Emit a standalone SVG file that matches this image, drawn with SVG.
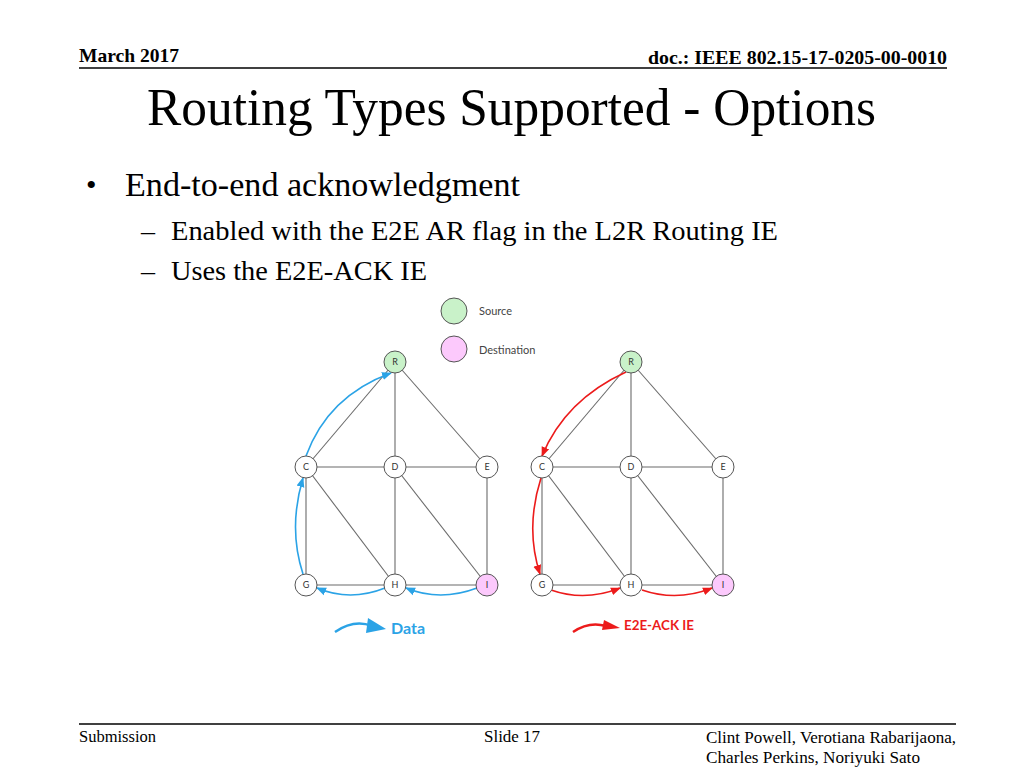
<svg xmlns="http://www.w3.org/2000/svg" width="1024" height="768" viewBox="0 0 1024 768">
<defs>
<style>
.serif{font-family:"Liberation Serif","Times New Roman",serif;fill:#000}
.edge{stroke:#6b6b6b;stroke-width:1.1;fill:none}
.node{fill:#fff;stroke:#555;stroke-width:1}
.src{fill:#c9f2c9;stroke:#555;stroke-width:1}
.dst{fill:#fcc9fc;stroke:#555;stroke-width:1}
.lbl{font-family:Lato,"Open Sans",sans-serif;font-size:9px;fill:#333;text-anchor:middle}
.leg{font-family:Lato,"Open Sans",sans-serif;font-size:11px;fill:#444}
.blue{stroke:#2ba3e6;stroke-width:1.6;fill:none;marker-end:url(#ab)}
.red{stroke:#ec1b1b;stroke-width:1.6;fill:none;marker-end:url(#ar)}
</style>
<marker id="ab" viewBox="0 0 10 10" refX="9" refY="5" markerWidth="10" markerHeight="10" markerUnits="userSpaceOnUse" orient="auto"><path d="M0,1 L10,5 L0,9 Z" fill="#2ba3e6"/></marker>
<marker id="ar" viewBox="0 0 10 10" refX="9" refY="5" markerWidth="10" markerHeight="10" markerUnits="userSpaceOnUse" orient="auto"><path d="M0,1 L10,5 L0,9 Z" fill="#ec1b1b"/></marker>
</defs>
<rect width="1024" height="768" fill="#fff"/>

<g id="header">
<text class="serif" x="79" y="62" font-size="19" font-weight="bold" textLength="100" lengthAdjust="spacingAndGlyphs">March 2017</text>
<text class="serif" x="648" y="64" font-size="19" font-weight="bold" textLength="299" lengthAdjust="spacingAndGlyphs">doc.: IEEE 802.15-17-0205-00-0010</text>
<line x1="79" y1="68" x2="947" y2="68" stroke="#000" stroke-width="1.5"/>
</g>

<g id="title">
<text class="serif" x="147" y="125" font-size="53" textLength="729" lengthAdjust="spacingAndGlyphs">Routing Types Supported - Options</text>
</g>

<g id="bullets">
<text class="serif" x="86" y="195" font-size="30">•</text>
<text class="serif" x="125" y="196" font-size="34" textLength="395" lengthAdjust="spacingAndGlyphs">End-to-end acknowledgment</text>
<text class="serif" x="141" y="240" font-size="28">–</text>
<text class="serif" x="171" y="240" font-size="28" textLength="607" lengthAdjust="spacingAndGlyphs">Enabled with the E2E AR flag in the L2R Routing IE</text>
<text class="serif" x="141" y="280" font-size="28">–</text>
<text class="serif" x="171" y="280" font-size="28" textLength="256" lengthAdjust="spacingAndGlyphs">Uses the E2E-ACK IE</text>
</g>

<g id="legend">
<circle class="src" cx="454" cy="311" r="13"/>
<text class="leg" x="479" y="315">Source</text>
<circle class="dst" cx="454" cy="349" r="13"/>
<text class="leg" x="479" y="354">Destination</text>
</g>

<g id="connectors">
<!-- left graph edges -->
<line class="edge" x1="395" y1="362" x2="306" y2="467"/>
<line class="edge" x1="395" y1="362" x2="395" y2="467"/>
<line class="edge" x1="395" y1="362" x2="487" y2="467"/>
<line class="edge" x1="306" y1="467" x2="487" y2="467"/>
<line class="edge" x1="306" y1="467" x2="306" y2="585"/>
<line class="edge" x1="306" y1="467" x2="395" y2="585"/>
<line class="edge" x1="395" y1="467" x2="395" y2="585"/>
<line class="edge" x1="395" y1="467" x2="487" y2="585"/>
<line class="edge" x1="487" y1="467" x2="487" y2="585"/>
<line class="edge" x1="306" y1="585" x2="487" y2="585"/>
<!-- right graph edges -->
<line class="edge" x1="631" y1="362" x2="542" y2="467"/>
<line class="edge" x1="631" y1="362" x2="631" y2="467"/>
<line class="edge" x1="631" y1="362" x2="723" y2="467"/>
<line class="edge" x1="542" y1="467" x2="723" y2="467"/>
<line class="edge" x1="542" y1="467" x2="542" y2="585"/>
<line class="edge" x1="542" y1="467" x2="631" y2="585"/>
<line class="edge" x1="631" y1="467" x2="631" y2="585"/>
<line class="edge" x1="631" y1="467" x2="723" y2="585"/>
<line class="edge" x1="723" y1="467" x2="723" y2="585"/>
<line class="edge" x1="542" y1="585" x2="723" y2="585"/>
<!-- blue data path -->
<path class="blue" d="M477,588 Q440,602 406,588"/>
<path class="blue" d="M385,588 Q350,602 317,588"/>
<path class="blue" d="M303,574 Q288,528 303,478"/>
<path class="blue" d="M306,456 Q328,396 391,373"/>
<!-- red ack path -->
<path class="red" d="M626,372 Q565,400 542,456"/>
<path class="red" d="M541,478 Q525,528 540,574"/>
<path class="red" d="M551,590 Q585,602 620,588"/>
<path class="red" d="M642,590 Q677,602 712,588"/>
<!-- legend arrows -->
<path d="M335,632 Q354,619 372,626" stroke="#2ba3e6" stroke-width="2.4" fill="none"/>
<polygon points="368,618 386,629 366,633" fill="#2ba3e6"/>
<path d="M573,632 Q589,621 606,626" stroke="#ec1b1b" stroke-width="2.4" fill="none"/>
<polygon points="604,620 620,628 602,630" fill="#ec1b1b"/>
</g>

<g id="L_R"><circle class="src" cx="395" cy="362" r="11"/><text class="lbl" x="395" y="365">R</text></g>
<g id="L_C"><circle class="node" cx="306" cy="467" r="11"/><text class="lbl" x="306" y="470">C</text></g>
<g id="L_D"><circle class="node" cx="395" cy="467" r="11"/><text class="lbl" x="395" y="470">D</text></g>
<g id="L_E"><circle class="node" cx="487" cy="467" r="11"/><text class="lbl" x="487" y="470">E</text></g>
<g id="L_G"><circle class="node" cx="306" cy="585" r="11"/><text class="lbl" x="306" y="588">G</text></g>
<g id="L_H"><circle class="node" cx="395" cy="585" r="11"/><text class="lbl" x="395" y="588">H</text></g>
<g id="L_I"><circle class="dst" cx="487" cy="585" r="11"/><text class="lbl" x="487" y="588">I</text></g>

<g id="R_R"><circle class="src" cx="631" cy="362" r="11"/><text class="lbl" x="631" y="365">R</text></g>
<g id="R_C"><circle class="node" cx="542" cy="467" r="11"/><text class="lbl" x="542" y="470">C</text></g>
<g id="R_D"><circle class="node" cx="631" cy="467" r="11"/><text class="lbl" x="631" y="470">D</text></g>
<g id="R_E"><circle class="node" cx="723" cy="467" r="11"/><text class="lbl" x="723" y="470">E</text></g>
<g id="R_G"><circle class="node" cx="542" cy="585" r="11"/><text class="lbl" x="542" y="588">G</text></g>
<g id="R_H"><circle class="node" cx="631" cy="585" r="11"/><text class="lbl" x="631" y="588">H</text></g>
<g id="R_I"><circle class="dst" cx="723" cy="585" r="11"/><text class="lbl" x="723" y="588">I</text></g>

<g id="key">
<text x="391" y="634" font-family="Lato,'Open Sans',sans-serif" font-size="16" font-weight="bold" fill="#2ba3e6">Data</text>
<text x="624" y="630" font-family="Lato,'Open Sans',sans-serif" font-size="14" font-weight="bold" fill="#ec1b1b" textLength="70" lengthAdjust="spacingAndGlyphs">E2E-ACK IE</text>
</g>

<g id="footer">
<line x1="79" y1="724" x2="956" y2="724" stroke="#000" stroke-width="1.5"/>
<text class="serif" x="79" y="742" font-size="16" textLength="77" lengthAdjust="spacingAndGlyphs">Submission</text>
<text class="serif" x="484" y="742" font-size="16" textLength="56" lengthAdjust="spacingAndGlyphs">Slide 17</text>
<text class="serif" x="706" y="743" font-size="16" textLength="250" lengthAdjust="spacingAndGlyphs">Clint Powell, Verotiana Rabarijaona,</text>
<text class="serif" x="706" y="763" font-size="16" textLength="214" lengthAdjust="spacingAndGlyphs">Charles Perkins, Noriyuki Sato</text>
</g>
</svg>
